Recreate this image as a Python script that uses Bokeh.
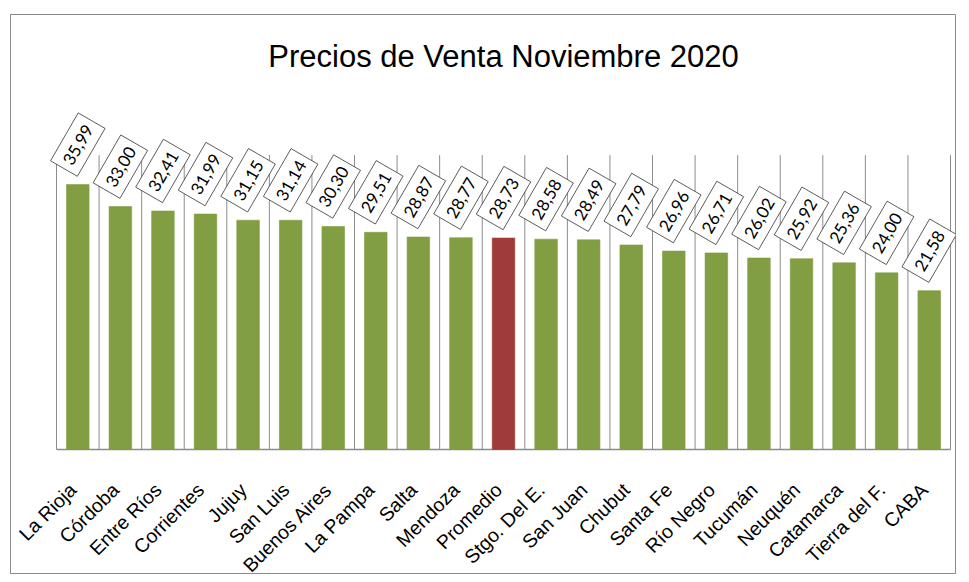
import numpy as np
from bokeh.plotting import figure
from bokeh.models import Label, ColumnDataSource
from bokeh.embed import file_html
from bokeh.resources import INLINE
from bokeh.core.properties import value

# ---- data ----
provinces = ["La Rioja", "Córdoba", "Entre Ríos", "Corrientes", "Jujuy", "San Luis",
             "Buenos Aires", "La Pampa", "Salta", "Mendoza", "Promedio", "Stgo. Del E.",
             "San Juan", "Chubut", "Santa Fe", "Río Negro", "Tucumán", "Neuquén",
             "Catamarca", "Tierra del F.", "CABA"]
prices = [35.99, 33.00, 32.41, 31.99, 31.15, 31.14, 30.30, 29.51, 28.87, 28.77, 28.73,
          28.58, 28.49, 27.79, 26.96, 26.71, 26.02, 25.92, 25.36, 24.00, 21.58]
highlight = "Promedio"
title_text = "Precios de Venta Noviembre 2020"
y_axis_max = 40

# ---- styling ----
GREEN = "#819E42"
RED = "#9F3B3A"
GRID = "#8C8C8C"

X_MIN, X_MAX = -1.5806, 20.617
Y_MIN, Y_MAX = -16.848, 59.103
FRAME_W, FRAME_H = 945, 559
px_x = FRAME_W / (X_MAX - X_MIN)   # pixels per category
px_y = FRAME_H / (Y_MAX - Y_MIN)   # pixels per unit

n = len(provinces)
xs = list(range(n))
labels = [f"{v:.2f}".replace(".", ",") for v in prices]
colors = [RED if p == highlight else GREEN for p in provinces]

# category label anchors: a few pixels left of / below each category
cat_dx, cat_dy = -5 / px_x, -37 / px_y
cat_x = [i + cat_dx for i in xs]
cat_y = [cat_dy] * n

src = ColumnDataSource(dict(x=xs, top=prices, lab=labels, color=colors,
                            name=provinces, cx=cat_x, cy=cat_y))

p = figure(width=960, height=578, output_backend="svg", toolbar_location=None,
           x_range=(X_MIN, X_MAX), y_range=(Y_MIN, Y_MAX),
           min_border_left=10, min_border_right=5, min_border_top=14, min_border_bottom=5)
p.background_fill_color = "white"
p.border_fill_color = "white"
p.outline_line_color = "#8A8A8A"
p.outline_line_width = 1
p.xgrid.visible = False
p.ygrid.visible = False
p.xaxis.visible = False
p.yaxis.visible = False

# vertical separators between categories
bounds = [i - 0.5 for i in range(n + 1)]
p.segment(x0=bounds, y0=[0] * len(bounds), x1=bounds, y1=[y_axis_max] * len(bounds),
          line_color=GRID, line_width=1)

# category axis baseline
p.segment(x0=[-0.5], y0=[0], x1=[n - 0.5], y1=[0], line_color=GRID, line_width=1.3)

p.vbar(x="x", top="top", width=0.53, bottom=0, source=src, fill_color="color",
       line_color="color", line_alpha=0.6, line_width=1)

# value labels
p.text(x="x", y="top", text="lab", source=src, angle=np.pi / 3,
       text_align="center", text_baseline="middle", y_offset=-40,
       text_font=value("Lato"), text_font_size="17px", text_color="black",
       background_fill_color="white", border_line_color="#333333", border_line_width=0.8,
       padding=(6, 9))

# category labels (rotated 45 degrees, right end at the category)
p.text(x="cx", y="cy", text="name", source=src, angle=np.pi / 4,
       text_align="right", text_baseline="middle",
       text_font=value("Liberation Sans"), text_font_size="19.5px", text_color="black")

title = Label(x=(n - 1) / 2, y=53.37, text=title_text, text_align="center",
              text_baseline="middle", text_font="Liberation Sans",
              text_font_size="31px", text_color="black")
p.add_layout(title)

open("out.html", "w").write(file_html(p, INLINE))
